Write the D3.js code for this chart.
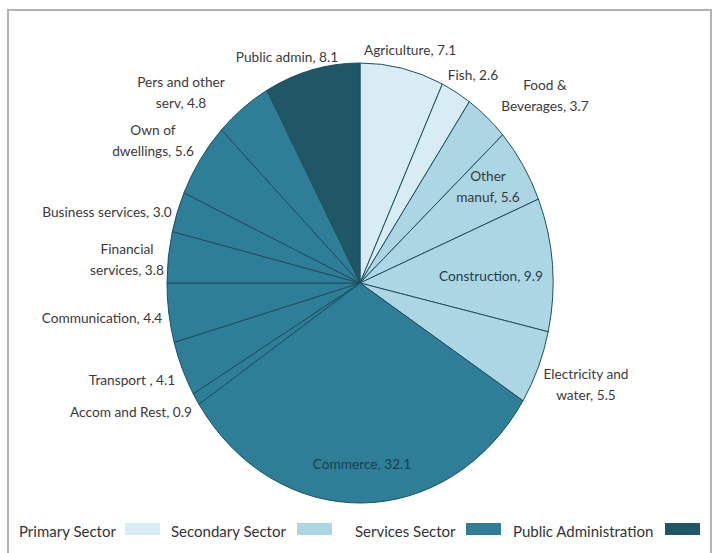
<!DOCTYPE html>
<html>
<head>
<meta charset="utf-8">
<script src="https://cdn.jsdelivr.net/npm/d3@7"></script>
<style>
  html, body { margin: 0; padding: 0; background: #fff; }
  svg { display: block; }
  text { font-family: Lato, "Liberation Sans Narrow", "Noto Sans", sans-serif; }
</style>
</head>
<body>
<svg id="chart" width="715" height="553"></svg>
<script>
// GDP shares by activity, clockwise from 12 o'clock
const categories = [
  "Agriculture", "Fish", "Food &\nBeverages", "Other\nmanuf", "Construction",
  "Electricity and\nwater", "Commerce", "Accom and Rest", "Transport ",
  "Communication", "Financial\nservices", "Business services",
  "Own of\ndwellings", "Pers and other\nserv", "Public admin"
];
const values = [7.1, 2.6, 3.7, 5.6, 9.9, 5.5, 32.1, 0.9, 4.1, 4.4, 3.8, 3.0, 5.6, 4.8, 8.1];
const sectorOf = [0, 0, 1, 1, 1, 1, 2, 2, 2, 2, 2, 2, 2, 2, 3];
const sectorNames = ["Primary Sector", "Secondary Sector", "Services Sector", "Public Administration"];
const sectorColors = ["#d8ecf3", "#acd6e3", "#2e7e98", "#1f5767"];

// Label placement (text centre x, first baseline y) for each slice
const labelPos = [
  [410, 55], [473, 80], [545, 90], [488, 181], [491, 281],
  [586, 379], [362, 469], [131, 417], [132, 385],
  [102, 323], [127, 254], [107, 217],
  [153, 135], [181, 87], [287, 62]
];
const darkLabels = new Set([4, 6]);
// Legend item start positions
const legendX = [19, 171, 355, 513];
const swatchX = [125, 297, 466, 665];

const svg = d3.select("#chart");

// Frame
svg.append("path")
  .attr("d", "M8,560 L8,10 L711,10 L711,560")
  .attr("fill", "none")
  .attr("stroke", "#b3b3b3")
  .attr("stroke-width", 2);

const cx = 360, cy = 283, rx = 193, ry = 220;

const pie = d3.pie().sort(null).value(d => d);
const arcs = pie(values);
const arc = d3.arc().innerRadius(0).outerRadius(rx);

const g = svg.append("g")
  .attr("transform", `translate(${cx},${cy}) scale(1,${ry / rx})`);

g.selectAll("path.slice")
  .data(arcs)
  .join("path")
  .attr("class", "slice")
  .attr("d", arc)
  .attr("fill", (d, i) => sectorColors[sectorOf[i]])
  .attr("stroke", "#1e4f5e")
  .attr("stroke-width", 1)
  .attr("vector-effect", "non-scaling-stroke");

// Slice labels
const labels = svg.append("g");
categories.forEach((name, i) => {
  const lines = (name + ", " + values[i].toFixed(1)).split("\n");
  const t = labels.append("text")
    .attr("x", labelPos[i][0])
    .attr("y", labelPos[i][1])
    .attr("text-anchor", "middle")
    .attr("font-size", 13.7)
    .attr("fill", darkLabels.has(i) ? "#1d3f4d" : "#3a3a3a");
  lines.forEach((ln, j) => {
    t.append("tspan")
      .attr("x", labelPos[i][0])
      .attr("dy", j === 0 ? 0 : 20.5)
      .text(ln);
  });
});

// Legend
const legend = svg.append("g");
sectorNames.forEach((s, i) => {
  legend.append("text")
    .attr("x", legendX[i])
    .attr("y", 537)
    .attr("font-size", 15)
    .attr("fill", "#333")
    .text(s);
  legend.append("rect")
    .attr("x", swatchX[i])
    .attr("y", 523)
    .attr("width", 35)
    .attr("height", 12)
    .attr("fill", sectorColors[i]);
});
</script>
</body>
</html>
